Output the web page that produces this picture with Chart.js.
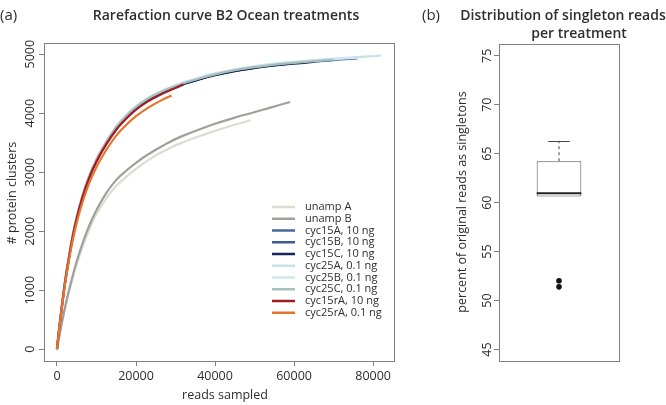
<!DOCTYPE html>
<html>
<head>
<meta charset="utf-8">
<script src="https://cdn.jsdelivr.net/npm/chart.js@4.4.1/dist/chart.umd.min.js"></script>
<style>
    html, body { margin: 0; padding: 0; background: #fff; }
    #wrap { position: relative; width: 666px; height: 405px; }
    #panelA { position: absolute; left: 0; top: 0; width: 420px; height: 405px; }
    #panelB { position: absolute; left: 420px; top: 0; width: 246px; height: 405px; }
</style>
</head>
<body>
<div id="wrap">
    <div id="panelA"><canvas id="rarefactionChart"></canvas></div>
    <div id="panelB"><canvas id="singletonChart"></canvas></div>
</div>
<script>
// ---- DATA (a) rarefaction curves ----
const readsSampled = [0, 500, 1000, 2000, 3000, 4000, 5000, 6500, 8000, 10000, 12500, 15000, 17500, 20000,
    23000, 26000, 29000, 32000, 36000, 40000, 45000, 49000, 54000, 59000, 65000, 70000, 76000, 82000];

const unampA = [0, 180, 355, 675, 955, 1205, 1435, 1740, 2000, 2290, 2560, 2765, 2920, 3055,
    3200, 3320, 3425, 3510, 3610, 3700, 3805, 3880];
const unampB = [0, 190, 370, 700, 990, 1250, 1490, 1800, 2070, 2360, 2650, 2870, 3025, 3160,
    3300, 3420, 3530, 3620, 3725, 3820, 3925, 4000, 4095, 4190];
const cyc15A = [0, 305, 590, 1115, 1542, 1920, 2229, 2598, 2898, 3208, 3508, 3758, 3948, 4098,
    4238, 4343, 4428, 4503, 4583, 4653, 4723, 4766, 4810, 4845, 4879, 4904, 4930];
const cyc15B = [0, 304, 588, 1112, 1538, 1916, 2224, 2593, 2893, 3203, 3503, 3753, 3943, 4093,
    4233, 4338, 4423, 4498, 4578, 4648, 4718, 4761, 4805, 4840, 4874, 4899];
const cyc15C = [0, 303, 586, 1108, 1534, 1911, 2219, 2588, 2888, 3198, 3498, 3748, 3938, 4088,
    4228, 4333, 4418, 4493, 4573, 4643, 4713, 4756, 4800, 4835, 4869];
const cyc25A = [0, 310, 600, 1130, 1560, 1940, 2250, 2620, 2920, 3230, 3530, 3780, 3970, 4120,
    4260, 4365, 4450, 4525, 4605, 4675, 4745, 4788, 4832, 4866, 4900, 4925, 4950, 4975];
const cyc25B = [0, 308, 596, 1124, 1552, 1932, 2242, 2611, 2911, 3221, 3521, 3771, 3961, 4111,
    4251, 4356, 4441, 4516, 4596, 4666, 4736, 4779, 4823, 4857, 4891, 4916, 4941];
const cyc25C = [0, 306, 592, 1118, 1546, 1925, 2235, 2604, 2904, 3214, 3514, 3764, 3954, 4104,
    4244, 4349, 4434, 4509, 4589, 4659, 4729, 4772, 4816, 4850, 4884, 4909];
const cyc15rA = [0, 305, 590, 1115, 1540, 1915, 2220, 2585, 2880, 3180, 3475, 3720, 3905, 4060,
    4200, 4310, 4400, 4485];
const cyc25rA = [0, 300, 575, 1080, 1490, 1850, 2145, 2500, 2790, 3090, 3380, 3620, 3800, 3950,
    4090, 4205, 4300];

const seriesLabels = ["unamp A", "unamp B", "cyc15A, 10 ng", "cyc15B, 10 ng", "cyc15C, 10 ng",
    "cyc25A, 0.1 ng", "cyc25B, 0.1 ng", "cyc25C, 0.1 ng", "cyc15rA, 10 ng", "cyc25rA, 0.1 ng"];
const seriesValues = [unampA, unampB, cyc15A, cyc15B, cyc15C, cyc25A, cyc25B, cyc25C, cyc15rA, cyc25rA];
const seriesColors = ["#dcdcd3", "#a0a09b", "#4a669b", "#3f5a92", "#15245a",
    "#c6e2ed", "#cfe6ee", "#a6bfbb", "#9e1c20", "#e8732c"];

const readsTicks = [0, 20000, 40000, 60000, 80000];
const clusterTicks = [0, 1000, 2000, 3000, 4000, 5000];

// ---- DATA (b) singleton box plot ----
const singletonTicks = [45, 50, 55, 60, 65, 70, 75];
const boxLow = 60.62;
const boxQ1 = 60.62;
const boxMedian = 60.96;
const boxQ3 = 64.23;
const boxHigh = 66.31;
const singletonOutliers = [52.03, 51.4];

const FONT = "'Open Sans', 'Noto Sans', sans-serif";
const TEXT = "#2e2e2e";
const AXIS = "#808080";

function setTicks(values) {
    return (scale) => { scale.ticks = values.map((v) => ({ value: v })); };
}

function drawFrame(ctx, area) {
    ctx.save();
    ctx.strokeStyle = AXIS;
    ctx.lineWidth = 1;
    ctx.strokeRect(area.left + 0.5, area.top + 0.5, area.right - area.left, area.bottom - area.top);
    ctx.restore();
}

function drawRotatedYLabels(chart, x, values) {
    const ctx = chart.ctx;
    const y = chart.scales.y;
    ctx.save();
    ctx.font = "12.5px " + FONT;
    ctx.fillStyle = TEXT;
    ctx.textAlign = "center";
    ctx.textBaseline = "middle";
    values.forEach((v) => {
        ctx.save();
        ctx.translate(x, y.getPixelForValue(v));
        ctx.rotate(-Math.PI / 2);
        ctx.fillText(String(v), 0, 0);
        ctx.restore();
    });
    ctx.restore();
}

function drawVerticalText(ctx, text, x, y, font) {
    ctx.save();
    ctx.font = font;
    ctx.fillStyle = TEXT;
    ctx.textAlign = "center";
    ctx.textBaseline = "middle";
    ctx.translate(x, y);
    ctx.rotate(-Math.PI / 2);
    ctx.fillText(text, 0, 0);
    ctx.restore();
}

// PANEL (a) decorations
const rarefactionDecor = {
    id: "rarefactionDecor",
    afterDraw(chart) {
        const ctx = chart.ctx;
        drawFrame(ctx, chart.chartArea);
        drawRotatedYLabels(chart, 30, clusterTicks);
        drawVerticalText(ctx, "# protein clusters", 12, 193, "12.5px " + FONT);

        ctx.save();
        ctx.fillStyle = TEXT;
        ctx.textBaseline = "middle";
        ctx.font = "15px " + FONT;
        ctx.textAlign = "left";
        ctx.fillText("(a)", 0, 16);
        ctx.font = "600 14px " + FONT;
        ctx.textAlign = "center";
        ctx.fillText("Rarefaction curve B2 Ocean treatments", 226, 16);
        ctx.font = "12.5px " + FONT;
        ctx.fillText("reads sampled", 225, 395);

        // legend
        ctx.font = "11px " + FONT;
        ctx.textAlign = "left";
        chart.data.datasets.forEach((ds, i) => {
            const yy = 207 + i * 11.75;
            ctx.strokeStyle = ds.borderColor;
            ctx.lineWidth = 2.5;
            ctx.beginPath();
            ctx.moveTo(272, yy);
            ctx.lineTo(295, yy);
            ctx.stroke();
            ctx.fillStyle = TEXT;
            ctx.fillText(ds.label, 305, yy);
        });
        ctx.restore();
    },
};

const rarefactionChart = new Chart(document.getElementById("rarefactionChart"), {
    type: "line",
    data: {
        datasets: seriesValues.map((vals, i) => ({
            label: seriesLabels[i],
            data: vals.map((v, j) => ({ x: readsSampled[j], y: v })),
            borderColor: seriesColors[i],
            backgroundColor: seriesColors[i],
            borderWidth: 2.2,
            pointRadius: 0,
            fill: false,
            cubicInterpolationMode: "monotone",
            order: seriesValues.length - i,
        })),
    },
    options: {
        responsive: true,
        maintainAspectRatio: false,
        animation: false,
        layout: { padding: { left: 0, right: 26, top: 43, bottom: 0 } },
        plugins: { legend: { display: false }, tooltip: { enabled: false } },
        scales: {
            x: {
                type: "linear",
                min: -3280,
                max: 85280,
                afterBuildTicks: setTicks(readsTicks),
                afterFit: (s) => { s.height = 44; },
                border: { display: false },
                grid: { drawOnChartArea: false, tickLength: 5, color: AXIS },
                ticks: {
                    color: TEXT,
                    font: { family: FONT, size: 12.5 },
                    padding: 3,
                    maxRotation: 0,
                    autoSkip: false,
                    callback: (v) => String(v),
                },
            },
            y: {
                type: "linear",
                min: -200,
                max: 5190,
                afterBuildTicks: setTicks(clusterTicks),
                afterFit: (s) => { s.width = 44; },
                border: { display: false },
                grid: { drawOnChartArea: false, tickLength: 5, color: AXIS },
                ticks: { display: false },
            },
        },
    },
    plugins: [rarefactionDecor],
});

// PANEL (b) decorations
const boxDecor = {
    id: "boxDecor",
    afterDatasetsDraw(chart) {
        const ctx = chart.ctx;
        const y = chart.scales.y;
        const bar = chart.getDatasetMeta(0).data[0];
        const half = bar.width / 2;
        const cap = bar.width * 0.24;
        ctx.save();
        ctx.strokeStyle = "#444";
        ctx.lineWidth = 1;
        // whiskers
        ctx.setLineDash([3, 3]);
        ctx.beginPath();
        ctx.moveTo(bar.x, y.getPixelForValue(boxQ3));
        ctx.lineTo(bar.x, y.getPixelForValue(boxHigh));
        ctx.moveTo(bar.x, y.getPixelForValue(boxQ1));
        ctx.lineTo(bar.x, y.getPixelForValue(boxLow));
        ctx.stroke();
        ctx.setLineDash([]);
        ctx.beginPath();
        ctx.moveTo(bar.x - cap, Math.round(y.getPixelForValue(boxHigh)) + 0.5);
        ctx.lineTo(bar.x + cap, Math.round(y.getPixelForValue(boxHigh)) + 0.5);
        ctx.stroke();
        // median
        ctx.lineWidth = 2;
        ctx.strokeStyle = "#222";
        ctx.beginPath();
        ctx.moveTo(bar.x - half, y.getPixelForValue(boxMedian));
        ctx.lineTo(bar.x + half, y.getPixelForValue(boxMedian));
        ctx.stroke();
        ctx.restore();
    },
    afterDraw(chart) {
        const ctx = chart.ctx;
        drawFrame(ctx, chart.chartArea);
        drawRotatedYLabels(chart, 67, singletonTicks);
        drawVerticalText(ctx, "percent of original reads as singletons", 42, 202, "12.5px " + FONT);
        ctx.save();
        ctx.fillStyle = TEXT;
        ctx.textBaseline = "middle";
        ctx.font = "15px " + FONT;
        ctx.textAlign = "left";
        ctx.fillText("(b)", 2, 16);
        ctx.font = "600 14px " + FONT;
        ctx.textAlign = "center";
        ctx.fillText("Distribution of singleton reads", 143, 16);
        ctx.fillText("per treatment", 159, 34);
        ctx.restore();
    },
};

const singletonChart = new Chart(document.getElementById("singletonChart"), {
    type: "bar",
    data: {
        labels: ["all"],
        datasets: [
            {
                type: "bar",
                data: [[boxQ1, boxQ3]],
                backgroundColor: "#ffffff",
                borderColor: "#555555",
                borderWidth: 1,
                borderSkipped: false,
                barPercentage: 0.372,
                categoryPercentage: 1,
                order: 2,
            },
            {
                type: "line",
                data: singletonOutliers.map((v) => ({ x: "all", y: v })),
                showLine: false,
                pointRadius: 2.8,
                pointBorderWidth: 0,
                pointBackgroundColor: "#111111",
                order: 1,
            },
        ],
    },
    options: {
        responsive: true,
        maintainAspectRatio: false,
        animation: false,
        layout: { padding: { left: 0, right: 47, top: 44, bottom: 44 } },
        plugins: { legend: { display: false }, tooltip: { enabled: false } },
        scales: {
            x: { display: false },
            y: {
                type: "linear",
                min: 43.83,
                max: 76.2,
                afterBuildTicks: setTicks(singletonTicks),
                afterFit: (s) => { s.width = 79; },
                border: { display: false },
                grid: { drawOnChartArea: false, tickLength: 5, color: AXIS },
                ticks: { display: false },
            },
        },
    },
    plugins: [boxDecor],
});
</script>
</body>
</html>
